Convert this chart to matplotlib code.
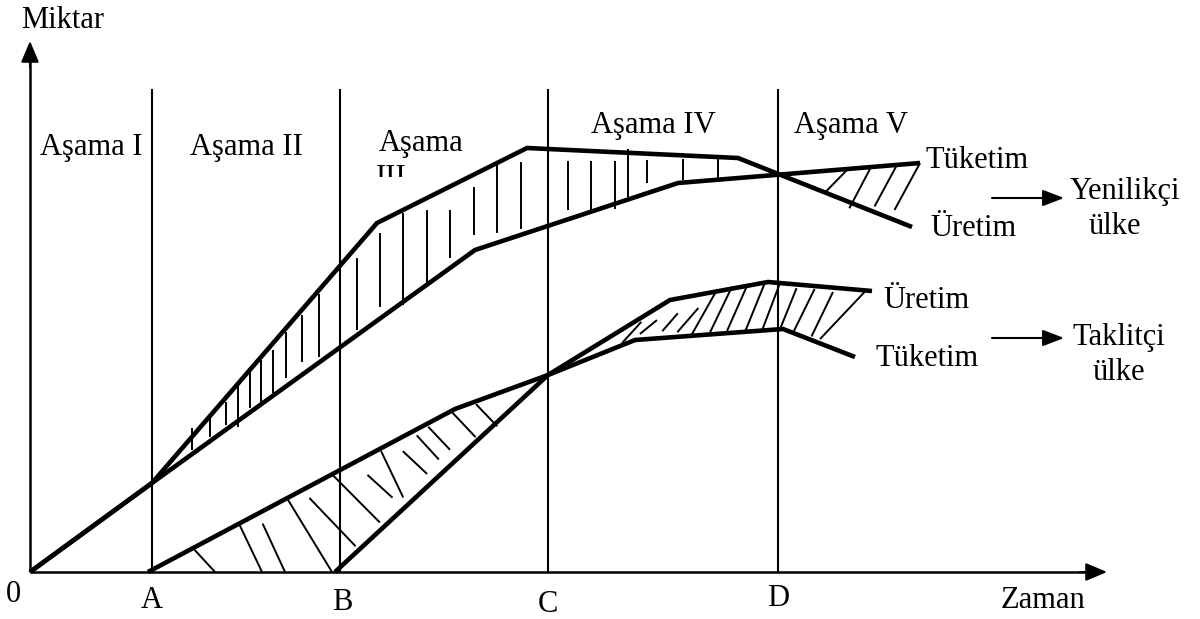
import numpy as np
import matplotlib
matplotlib.use("Agg")
import matplotlib.pyplot as plt
from matplotlib.patches import FancyArrowPatch, Rectangle

# ---- curves: time (t) vs quantity (m) -------------------------------------
# innovating country
innov_t_prod = [0, 122, 347, 497, 708, 882]
innov_prod = [0, 89, 349, 424, 414, 345]
innov_t_cons = [0, 122, 445, 648, 890]
innov_cons = [0, 89, 322, 389, 409]

# imitating country
imit_t_prod = [305, 518, 640, 738, 842]
imit_prod = [0, 197, 272, 290, 281]
imit_t_cons = [118, 425, 518, 605, 753, 825]
imit_cons = [0, 163, 197, 232, 243, 215]

# phase boundaries on the time axis
phase_t = [122, 310, 518, 748]
phase_ticks = ["A", "B", "C", "D"]
phase_names = ["Aşama I", "Aşama II", "Aşama", "Aşama IV", "Aşama V"]

# hatch strokes: (t at first edge, t at second edge, start fraction, end fraction)
innov_gap_t = [162, 180, 196, 208, 220, 231, 243, 256, 272, 289, 327, 350, 373,
               397, 420, 444, 467, 491, 538, 561, 585, 598, 617, 653, 688]
innov_gap_f0 = [-0.5, 0.04, 0.14, 0.04, -0.07, 0.06, 0.13, 0.07, 0.08, 0.05, 0.13,
                0.12, 0.03, 0.14, 0.29, 0.16, 0.03, 0.13, 0.16, 0.17, 0.18, -0.08,
                0.15, 0.15, 0.10]
innov_gap_f1 = [0.76, 0.84, 0.86, 1.16, 0.90, 0.96, 0.94, 0.86, 0.80, 0.93, 0.94,
                0.88, 1.03, 0.98, 0.88, 0.79, 0.88, 0.93, 0.87, 0.97, 1.10, 0.95,
                0.74, 0.90, 0.95]
innov_late_hatch = [(795, 818, 0.0, 1.0), (822, 841, -0.14, 1.0),
                    (842, 867, 0.10, 1.0), (860, 890, 0.15, 1.0)]
imit_early_hatch = [(163, 185, 0, 1), (209, 232, 0, 1), (228, 255, 0.17, 1),
                    (257, 302, 0, 1), (272, 329, 0.13, 0.94), (302, 354, 0, 0.92),
                    (324, 374, 0.27, 0.77), (350, 377, 0.04, 0.86),
                    (363, 404, 0.24, 0.83), (383, 417, 0.11, 0.76),
                    (396, 428, 0.07, 0.75), (421, 448, 0.05, 0.91),
                    (444, 465, 0.10, 1.10)]
imit_late_hatch = [(589, 620, 0.10, 0.72), (600, 655, 0.18, 0.49),
                   (626, 663, 0.17, 0.59), (643, 682, 0.11, 0.65),
                   (661, 686, 0.03, 1.05), (679, 701, 0.05, 1.05),
                   (696, 717, 0.05, 1.04), (715, 735, 0.02, 1.00),
                   (732, 750, 0.00, 1.00), (750, 768, 0.00, 0.92),
                   (763, 786, 0.02, 0.94), (780, 805, 0.06, 0.92),
                   (787, 836, 0.06, 0.97)]

# ---- figure ----------------------------------------------------------------
plt.rcParams["font.family"] = ["Liberation Serif", "DejaVu Serif"]
FS = 22
fig = plt.figure(figsize=(12, 6.19), dpi=100)
ax = fig.add_axes([0, 0, 1, 1])
ax.set_xlim(-30, 1170)
ax.set_ylim(-47, 572)
ax.axis("off")

THICK = 3.3
THIN = 1.5
HATCH = 1.4

# axes with arrows
ax.plot([0, 1062], [0, 0], color="black", lw=1.8, solid_capstyle="butt")
ax.plot([0, 0], [0, 515], color="black", lw=1.8, solid_capstyle="butt")
for start, end in [((1050, 0), (1077, 0)), ((0, 505), (0, 531))]:
    ax.add_patch(FancyArrowPatch(start, end, arrowstyle="-|>,head_length=1.3,head_width=0.55",
                                 mutation_scale=10, color="black", lw=1.5,
                                 shrinkA=0, shrinkB=0))

# phase separators
for t in phase_t:
    ax.plot([t, t], [0, 482], color="black", lw=THIN)


def innov_up(t):
    return np.maximum(np.interp(t, innov_t_prod, innov_prod),
                      np.interp(t, innov_t_cons, innov_cons))


def innov_low(t):
    return np.minimum(np.interp(t, innov_t_prod, innov_prod),
                      np.interp(t, innov_t_cons, innov_cons))


def imit_cons_at(t):
    return np.interp(t, imit_t_cons, imit_cons)


def imit_prod_at(t):
    return np.interp(t, imit_t_prod, imit_prod, left=0.0)


def stroke(ta, tb, fa, fb, edge_a, edge_b):
    pa = np.array([ta, edge_a(ta)])
    pb = np.array([tb, edge_b(tb)])
    p0 = pa + fa * (pb - pa)
    p1 = pa + fb * (pb - pa)
    ax.plot([p0[0], p1[0]], [p0[1], p1[1]], color="black", lw=HATCH,
            solid_capstyle="butt")


# innovator: surplus of production (vertical strokes)
for t, f0, f1 in zip(innov_gap_t, innov_gap_f0, innov_gap_f1):
    stroke(t, t, f0, f1, innov_up, innov_low)
# innovator: consumption exceeds production after D
for ta, tb, f0, f1 in innov_late_hatch:
    stroke(ta, tb, f0, f1, innov_low, innov_up)
# imitator: imports before C
for ta, tb, f0, f1 in imit_early_hatch:
    stroke(ta, tb, f0, f1, imit_cons_at, imit_prod_at)
# imitator: exports after C
for ta, tb, f0, f1 in imit_late_hatch:
    stroke(ta, tb, f0, f1, imit_cons_at, imit_prod_at)

# curves
for tt, vv in [(innov_t_prod, innov_prod), (innov_t_cons, innov_cons),
               (imit_t_prod, imit_prod), (imit_t_cons, imit_cons)]:
    ax.plot(tt, vv, color="black", lw=THICK, solid_joinstyle="miter",
            solid_capstyle="butt")

# text
txt = dict(fontsize=FS, color="black", ha="center", va="center")
ax.text(33, 552, "Miktar", **txt)
ax.text(1013, -28, "Zaman", **txt)
ax.text(-17, -23, "0", **txt)
tick_m = [-28, -30, -32, -26]
for t, lab, m in zip(phase_t, phase_ticks, tick_m):
    ax.text(t + (2 if lab == "B" else 0), m, lab, **txt)

phase_pos = [(61, 425), (216, 425), (391, 428), (623, 447), (821, 446)]
for (t, m), name in zip(phase_pos, phase_names):
    ax.text(t, m, name, **txt)
# second line of the third phase label, cut off just below its top
iii = ax.text(361, 394, "III", fontsize=FS, color="black", ha="center", va="center")
iii.set_clip_on(True)
iii.set_clip_path(Rectangle((300, 395), 200, 100, transform=ax.transData))

ax.text(895, 412, "Tüketim", fontsize=FS, ha="left", va="center")
ax.text(900, 344, "Üretim", fontsize=FS, ha="left", va="center")
ax.text(853, 271, "Üretim", fontsize=FS, ha="left", va="center")
ax.text(845, 214, "Tüketim", fontsize=FS, ha="left", va="center")

ax.text(1095, 380, "Yenilikçi", **txt)
ax.text(1085, 345, "ülke", **txt)
ax.text(1089, 235, "Taklitçi", **txt)
ax.text(1089, 200, "ülke", **txt)

for m in (374, 234):
    ax.add_patch(FancyArrowPatch((962, m), (1034, m),
                                 arrowstyle="-|>,head_length=1.3,head_width=0.5",
                                 mutation_scale=10, color="black", lw=1.5,
                                 shrinkA=0, shrinkB=0))

fig.savefig("out.png", dpi=100, facecolor="white")
